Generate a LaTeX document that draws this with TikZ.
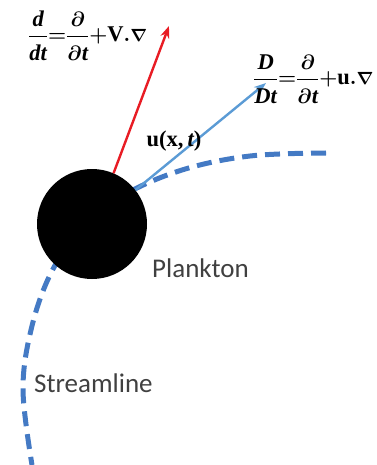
\documentclass[tikz,border=0pt]{standalone}
\usepackage{amsmath,amssymb}
\usepackage{fontspec}
\setmainfont{Carlito}
\newfontfamily\eqfont{Liberation Serif}
\usepackage{tikz}
\usetikzlibrary{arrows.meta,positioning}
\definecolor{streamblue}{RGB}{68, 122, 196}
\definecolor{flowblue}{RGB}{91, 155, 213}
\definecolor{velred}{RGB}{232, 28, 36}
\definecolor{labelgray}{RGB}{64, 64, 64}
% bold italic and bold upright letters of the equations
\newcommand{\vi}[1]{\text{\eqfont\bfseries\itshape #1}}
\newcommand{\vb}[1]{\text{\eqfont\bfseries #1}}
\newcommand{\upnum}[1]{{#1\rule[-7pt]{0pt}{0pt}}}
\newcommand{\dnden}[1]{{\rule{0pt}{21pt}#1}}
\newcommand{\nab}{\scalebox{0.85}{$\nabla$}}

\begin{document}
\begin{tikzpicture}[x=1pt, y=-1pt, >={Stealth[length=12pt, width=9pt]},
    eqn/.style={inner sep=0pt, font=\fontsize{22.5}{27}\selectfont\boldmath},
    tag/.style={inner sep=0pt, text=labelgray, font=\fontsize{27}{30}\selectfont}]
    \useasboundingbox (0,0) rectangle (376,465);

    % Streamline through the plankton
    \draw[streamblue, line width=5pt, dash pattern=on 15pt off 8pt]
        plot[smooth, tension=0.6] coordinates {(326,153) (250,156) (182,170) (122,196)
            (80,230) (50,275) (31,330) (23,390) (32,465)};

    % Plankton body
    \node[circle, fill=black, minimum size=110pt, inner sep=0pt] (plankton) at (92,224) {};

    % Velocity arrows
    \coordinate (redtip) at (169,26);
    \coordinate (bluetip) at (266,83);
    \draw[->, velred, line width=2.4pt] (plankton.67) -- (redtip);
    \draw[->, flowblue, line width=2.4pt] (plankton.38) -- (bluetip);

    % Labels
    \node[eqn, anchor=west] (totald) at (28,36)
        {$\displaystyle \frac{\upnum{\vi{d}}}{\dnden{\vi{dt}}}{=}\frac{\upnum{\partial}}{\dnden{\partial\vi{t}}}{+}\vb{V}.\nab$};
    \node[eqn, anchor=west] (material) at (253,79)
        {$\displaystyle \frac{\upnum{\vi{D}}}{\dnden{\vi{Dt}}}{=}\frac{\upnum{\partial}}{\dnden{\partial\vi{t}}}{+}\vb{u}.\nab$};
    \node[eqn] (fluidvel) at (174,141) {$\vb{u}\vb{(}\vb{x}\vb{,}\,\vi{t}\vb{)}$};
    \node[tag, anchor=west] (planklabel) at (152,268) {Plankton};
    \node[tag, anchor=west] (streamlabel) at (34,383) {Streamline};
\end{tikzpicture}
\end{document}
